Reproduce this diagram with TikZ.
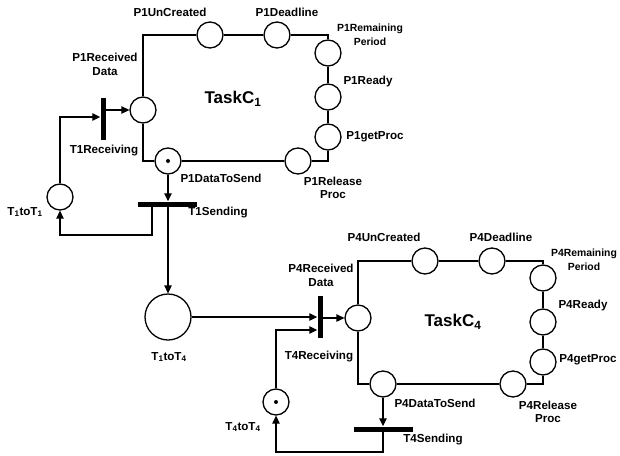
\documentclass[tikz,border=0pt]{standalone}
\usepackage{fontspec}
\setmainfont{Liberation Sans}
\usetikzlibrary{arrows.meta,calc}
\begin{document}
\begin{tikzpicture}[x=1pt,y=-1pt,
  place/.style={circle,draw,fill=white,line width=1.3pt,minimum size=26pt,inner sep=0},
  bigplace/.style={place,minimum size=46pt},
  vbar/.style={rectangle,fill=black,minimum width=5pt,minimum height=42pt,inner sep=0},
  hbar/.style={rectangle,fill=black,minimum width=59pt,minimum height=5pt,inner sep=0},
  lbl/.style={font=\bfseries\fontsize{11.6}{13.5}\selectfont,inner sep=0,align=center},
  small/.style={font=\bfseries\fontsize{10.4}{14}\selectfont,inner sep=0,align=center},
  title/.style={font=\bfseries\fontsize{17}{18}\selectfont,inner sep=0},
  wire/.style={line width=1.3pt},
  arr/.style={wire,-{Triangle[length=8pt,width=7.5pt]}},
  token/.style={circle,fill=black,inner sep=0,minimum size=4pt}]
\useasboundingbox (0,0) rectangle (620,455);

% ---------- task C1 ----------
\node[place] (rd1)  at (143,110) {};
\node[place] (uc1)  at (210,35) {};
\node[place] (dl1)  at (277,35) {};
\node[place] (rp1)  at (328,53) {};
\node[place] (rdy1) at (328,97) {};
\node[place] (gp1)  at (328,137) {};
\node[place] (rl1)  at (298,161) {};
\node[place] (ds1)  at (168,161) {};
\node[token] (tk1)  at (ds1) {};
\node[place] (t11)  at (60,197) {};
\node[vbar]  (tr1)  at (103,119) {};
\node[hbar]  (ts1)  at (167.5,204) {};
\node[bigplace] (t14) at (168,317) {};

\draw[wire] (rd1) |- (uc1) -- (dl1) -| (rp1) -- (rdy1) -- (gp1) |- (rl1) -- (ds1) -| (rd1);
\draw[arr] (tr1.east |- rd1) -- (rd1);
\draw[arr] (t11) |- ($(tr1.west)+(0,-2)$);
\draw[arr] (ds1) -- (ds1 |- ts1.north);
\coordinate (k1) at (60,235);
\draw[arr] ($(ts1.south)+(-15.5,0)$) |- (k1) -- (t11);
\draw[arr] (ts1.south -| ds1) -- (t14);

% ---------- task C4 ----------
\node[place] (rd4)  at (358,318) {};
\node[place] (uc4)  at (425,261) {};
\node[place] (dl4)  at (492,261) {};
\node[place] (rp4)  at (543,278) {};
\node[place] (rdy4) at (543,322) {};
\node[place] (gp4)  at (543,362) {};
\node[place] (rl4)  at (513,384) {};
\node[place] (ds4)  at (383,384) {};
\node[place] (t44)  at (276,402) {};
\node[token] (tk4)  at (t44) {};
\node[vbar]  (tr4)  at (320,317) {};
\node[hbar]  (ts4)  at (383,429) {};

\draw[wire] (rd4) |- (uc4) -- (dl4) -| (rp4) -- (rdy4) -- (gp4) |- (rl4) -- (ds4) -| (rd4);
\draw[arr] (tr4.east |- rd4) -- (rd4);
\draw[arr] (t14) -- (tr4.west |- t14);
\draw[arr] (t44) |- ($(tr4.west)+(0,13)$);
\draw[arr] (ds4) -- (ds4 |- ts4.north);
\coordinate (k4) at (276,452);
\draw[arr] (ts4.south) |- (k4) -- (t44);

% ---------- labels ----------
\node[lbl] (l1)  at (170,12)  {P1UnCreated};
\node[lbl] (l2)  at (287,12)  {P1Deadline};
\node[small] (l3) at (370,35) {P1Remaining\\Period};
\node[lbl] (l4)  at (368,81)  {P1Ready};
\node[lbl] (l5)  at (375,137) {P1getProc};
\node[lbl] (l6)  at (333,188) {P1Release\\Proc};
\node[lbl] (l7)  at (221,178) {P1DataToSend};
\node[lbl] (l8)  at (218,213) {T1Sending};
\node[lbl] (l9)  at (104,151) {T1Receiving};
\node[lbl] (l10) at (105,64.5) {P1Received\\Data};
\node[title] (l11) at (233,99) {TaskC\textsubscript{1}};
\node[lbl] (l12) at (25,212)  {T\textsubscript{1}toT\textsubscript{1}};
\node[lbl] (l13) at (169,357) {T\textsubscript{1}toT\textsubscript{4}};

\node[lbl] (m1)  at (384,237) {P4UnCreated};
\node[lbl] (m2)  at (501,237) {P4Deadline};
\node[small] (m3) at (584,260) {P4Remaining\\Period};
\node[lbl] (m4)  at (583,305) {P4Ready};
\node[lbl] (m5)  at (588,360) {P4getProc};
\node[lbl] (m6)  at (548,412) {P4Release\\Proc};
\node[lbl] (m7)  at (435,403) {P4DataToSend};
\node[lbl] (m8)  at (433,440) {T4Sending};
\node[lbl] (m9)  at (319,357) {T4Receiving};
\node[lbl] (m10) at (321,275.5) {P4Received\\Data};
\node[title] (m11) at (453,322) {TaskC\textsubscript{4}};
\node[lbl] (m12) at (243,427) {T\textsubscript{4}toT\textsubscript{4}};
\end{tikzpicture}
\end{document}
